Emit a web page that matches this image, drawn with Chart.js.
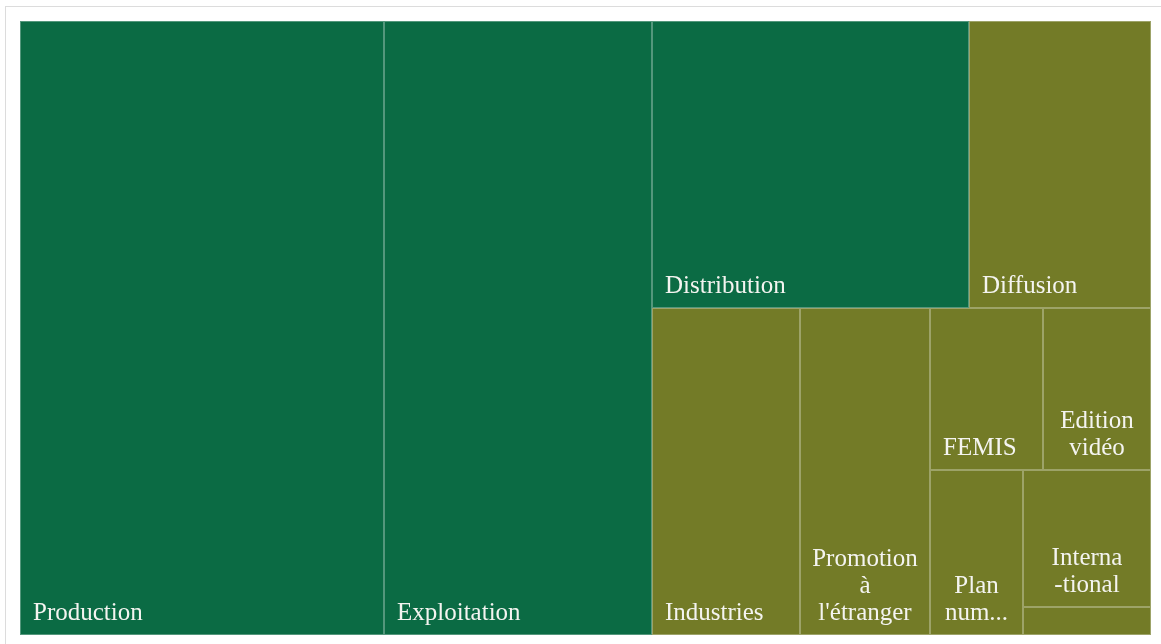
<!DOCTYPE html>
<html>
<head>
<meta charset="utf-8">
<script src="https://cdn.jsdelivr.net/npm/chart.js@4.4.0/dist/chart.umd.min.js"></script>
<style>
	html, body { margin: 0; padding: 0; background: #fff; overflow: hidden; }
	#frame { position: absolute; left: 5px; top: 6px; width: 1200px; height: 700px; border: 1px solid #dcdcdc; }
	#wrap { position: absolute; left: 0; top: 0; width: 1161px; height: 644px; }
</style>
</head>
<body>
<div id="frame"></div>
<div id="wrap"><canvas id="myChart"></canvas></div>
<script>
const categories = ["Production", "Exploitation", "Distribution", "Diffusion", "Industries",
	"Promotion à l'étranger", "FEMIS", "Edition vidéo", "Plan numérique", "International", "Autres"];
const values = [223.5, 164.6, 91.0, 52.2, 48.4, 42.5, 18.3, 17.5, 15.3, 17.5, 3.6];
const groups = ["A", "A", "A", "B", "B", "B", "B", "B", "B", "B", "B"];
// text shown in each cell, as the reference wraps it
const labels = ["Production", "Exploitation", "Distribution", "Diffusion", "Industries",
	"Promotion\nà\nl'étranger", "FEMIS", "Edition\nvidéo", "Plan\nnum...", "Interna\n-tional", ""];
// which cells share a strip (order of the layout)
const strips = [[0], [1], [2, 3], [4], [5], [6, 7], [8], [9], [10]];

const groupColors = { A: "#0b6b44", B: "#737b27" };

const treemapPlugin = {
	id: "treemap",
	afterDatasetsDraw(chart) {
		const xs = chart.scales.x, ys = chart.scales.y;
		const area = chart.chartArea;
		const W = area.right - area.left, H = area.bottom - area.top;
		const total = values.reduce((a, b) => a + b, 0);

		// strip layout, each strip laid along the shorter side of what is left
		let rx = 0, ry = 0, rw = W, rh = H;
		const rects = [];
		strips.forEach(strip => {
			const sum = strip.reduce((s, i) => s + values[i], 0);
			const a = sum / total * W * H;
			if (rw >= rh) {
				const sw = a / rh;
				let yy = ry;
				strip.forEach(i => {
					const h = values[i] / sum * rh;
					rects[i] = { x: rx, y: yy, w: sw, h: h };
					yy += h;
				});
				rx += sw; rw -= sw;
			} else {
				const sh = a / rw;
				let xx = rx;
				strip.forEach(i => {
					const w = values[i] / sum * rw;
					rects[i] = { x: xx, y: ry, w: w, h: sh };
					xx += w;
				});
				ry += sh; rh -= sh;
			}
		});

		const ctx = chart.ctx;
		ctx.save();
		rects.forEach((r, i) => {
			const x0 = Math.round(xs.getPixelForValue(r.x / W));
			const x1 = Math.round(xs.getPixelForValue((r.x + r.w) / W));
			const y0 = Math.round(ys.getPixelForValue(r.y / H));
			const y1 = Math.round(ys.getPixelForValue((r.y + r.h) / H));
			ctx.fillStyle = groupColors[groups[i]];
			ctx.fillRect(x0, y0, x1 - x0, y1 - y0);
			ctx.strokeStyle = "rgba(255,255,255,0.3)";
			ctx.lineWidth = 1;
			ctx.strokeRect(x0 + 0.5, y0 + 0.5, x1 - x0 - 1, y1 - y0 - 1);

			const lines = labels[i] ? labels[i].split("\n") : [];
			if (!lines.length) return;
			ctx.save();
			ctx.beginPath();
			ctx.rect(x0, y0, x1 - x0, y1 - y0);
			ctx.clip();
			ctx.fillStyle = "#f4f4f0";
			ctx.font = "25px 'Liberation Serif'";
			ctx.textBaseline = "alphabetic";
			const lh = 27;
			let base = y1 - 15 - (lines.length - 1) * lh;
			lines.forEach(t => {
				if (lines.length === 1) {
					ctx.textAlign = "left";
					ctx.fillText(t, x0 + 13, base);
				} else {
					ctx.textAlign = "center";
					ctx.fillText(t, (x0 + x1) / 2, base);
				}
				base += lh;
			});
			ctx.restore();
		});
		ctx.restore();
	}
};

const config = {
	type: "scatter",
	data: { datasets: [] },
	options: {
		responsive: true,
		maintainAspectRatio: false,
		animation: false,
		layout: { padding: { left: 20, top: 21, right: 10, bottom: 9 } },
		plugins: { legend: { display: false }, tooltip: { enabled: false } },
		scales: {
			x: { type: "linear", min: 0, max: 1, display: false },
			y: { type: "linear", min: 0, max: 1, reverse: true, display: false }
		}
	},
	plugins: [treemapPlugin]
};

let ctx = document.getElementById("myChart").getContext("2d");
new Chart(ctx, config);
</script>
</body>
</html>
